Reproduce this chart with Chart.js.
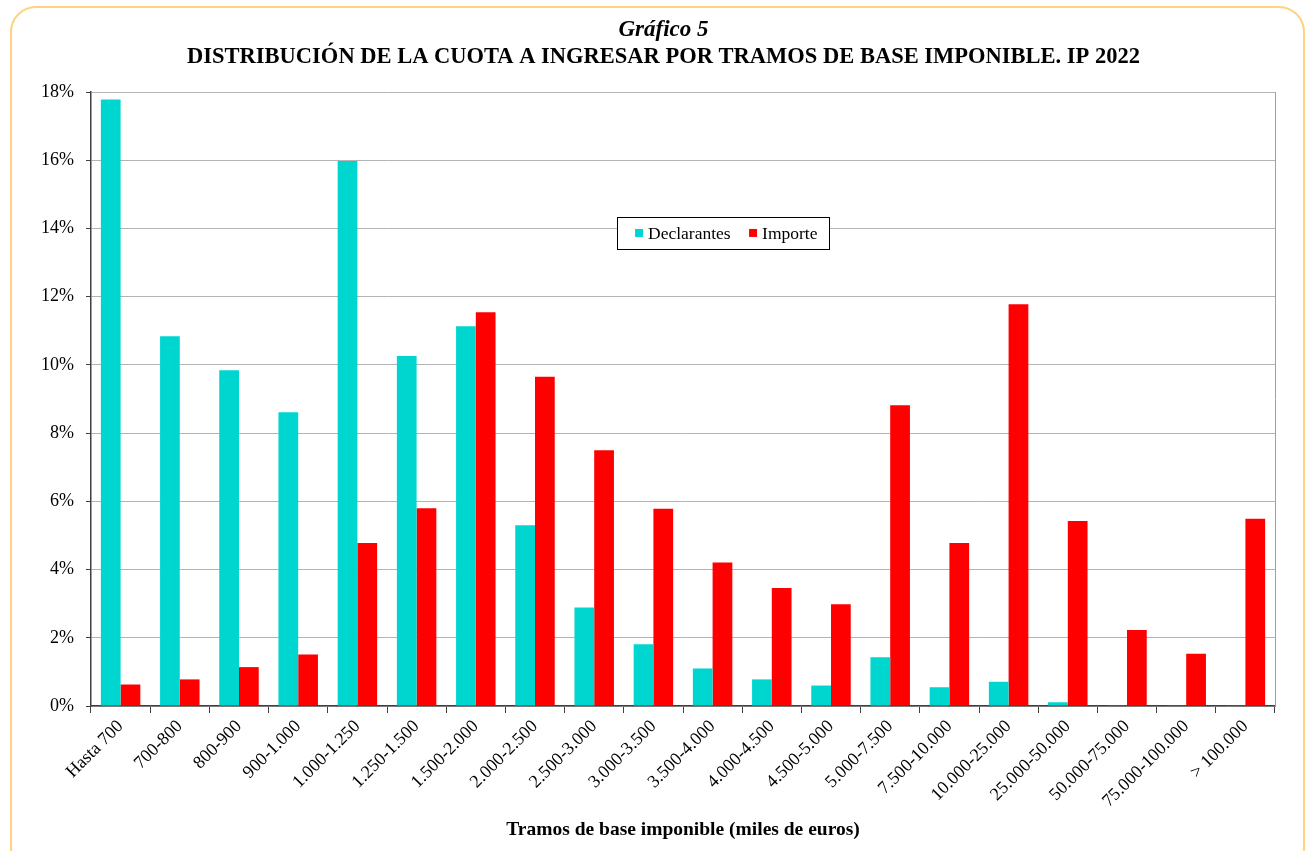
<!DOCTYPE html>
<html>
<head>
<meta charset="utf-8">
<script src="https://cdn.jsdelivr.net/npm/chart.js@4/dist/chart.umd.min.js"></script>
<style>
  html, body { margin: 0; padding: 0; background: #ffffff; overflow: hidden; }
  #frame { position: absolute; left: 10px; top: 6px; width: 1295px; height: 880px;
           border: 2px solid #FFD27F; border-radius: 26px; box-sizing: border-box; }
  #wrap { position: absolute; left: 0; top: 0; width: 1308px; height: 851px; }
</style>
</head>
<body>
<div id="frame"></div>
<div id="wrap"><canvas id="c" width="1308" height="851"></canvas></div>
<script>
const categories = ["Hasta 700","700-800","800-900","900-1.000","1.000-1.250","1.250-1.500","1.500-2.000","2.000-2.500","2.500-3.000","3.000-3.500","3.500-4.000","4.000-4.500","4.500-5.000","5.000-7.500","7.500-10.000","10.000-25.000","25.000-50.000","50.000-75.000","75.000-100.000","> 100.000"];
const declarantes = [17.78,10.84,9.84,8.61,15.98,10.26,11.13,5.30,2.89,1.81,1.10,0.78,0.60,1.43,0.55,0.71,0.11,0.02,0.01,0.01];
const importe = [0.63,0.78,1.14,1.51,4.78,5.80,11.54,9.65,7.50,5.78,4.21,3.46,2.98,8.82,4.78,11.78,5.42,2.23,1.53,5.49];
const yTicks = [0,2,4,6,8,10,12,14,16,18];
const titleText = "Gráfico 5";
const subtitleText = "DISTRIBUCIÓN DE LA CUOTA A INGRESAR POR TRAMOS DE BASE IMPONIBLE. IP 2022";
const xAxisTitle = "Tramos de base imponible (miles de euros)";

const SERIF = "'Liberation Serif', 'Times New Roman', serif";

const legendBox = {
  id: 'legendBox',
  afterDraw(chart) {
    const {ctx, chartArea: a} = chart;
    const x0 = a.left + (a.right - a.left) * 0.4443;
    const y0 = a.top + (a.bottom - a.top) * 0.2035;
    const w = 212, h = 32;
    ctx.save();
    ctx.fillStyle = '#ffffff';
    ctx.fillRect(x0, y0, w, h);
    ctx.strokeStyle = '#000000';
    ctx.lineWidth = 1;
    ctx.strokeRect(Math.round(x0) + 0.5, Math.round(y0) + 0.5, w, h);
    ctx.font = "17.5px " + SERIF;
    ctx.textBaseline = 'middle';
    const ds = chart.data.datasets;
    const items = [{sx: 18, tx: 31}, {sx: 132, tx: 145}];
    ds.forEach((d, i) => {
      ctx.fillStyle = d.backgroundColor;
      ctx.fillRect(x0 + items[i].sx, y0 + h / 2 - 4, 8, 8);
      ctx.fillStyle = '#000';
      ctx.fillText(d.label, x0 + items[i].tx, y0 + h / 2 + 1);
    });
    ctx.restore();
  }
};

new Chart(document.getElementById('c'), {
  type: 'bar',
  data: {
    labels: categories,
    datasets: [
      { label: 'Declarantes', data: declarantes, backgroundColor: '#00D6D0', borderWidth: 0,
        categoryPercentage: 0.667, barPercentage: 1.0 },
      { label: 'Importe', data: importe, backgroundColor: '#FF0000', borderWidth: 0,
        categoryPercentage: 0.667, barPercentage: 1.0 }
    ]
  },
  options: {
    responsive: false,
    animation: false,
    devicePixelRatio: 1,
    layout: { padding: { top: 0, left: 19, right: 0, bottom: 8 } },
    plugins: {
      legend: { display: false },
      tooltip: { enabled: false },
      title: {
        display: true, text: titleText, color: '#000',
        font: { family: SERIF, size: 23, style: 'italic', weight: 'bold', lineHeight: 1.2 },
        padding: { top: 16, bottom: 0 }
      },
      subtitle: {
        display: true, text: subtitleText, color: '#000',
        font: { family: SERIF, size: 22.5, weight: 'bold', lineHeight: 1.2 },
        padding: { top: 0, bottom: 21.4 }
      }
    },
    scales: {
      x: {
        grid: { display: true, drawOnChartArea: false, offset: true, tickLength: 7, tickColor: '#404040' },
        border: { display: true, color: '#404040', width: 1.5 },
        ticks: { color: '#000', maxRotation: 45, minRotation: 45, autoSkip: false,
                 font: { family: SERIF, size: 18 }, padding: 3 },
        title: { display: true, text: xAxisTitle, color: '#000',
                 font: { family: SERIF, size: 19.5, weight: 'bold' }, padding: { top: 0, bottom: 1 } },
        afterFit(scale) { scale.height = 851 - 706 - 8; }
      },
      y: {
        min: 0, max: 18,
        afterBuildTicks(scale) { scale.ticks = yTicks.map(v => ({ value: v })); },
        grid: { color: '#B4B4B4', lineWidth: 1, tickLength: 5, tickColor: '#404040', drawTicks: true },
        border: { display: true, color: '#404040', width: 1.5 },
        ticks: { color: '#000', padding: 12, font: { family: SERIF, size: 18 },
                 callback: v => v + '%' },
        afterFit(scale) { scale.width = 72; }
      },
      yRight: {
        position: 'right', display: true, min: 0, max: 18,
        grid: { display: false, drawOnChartArea: false, drawTicks: false },
        border: { display: true, color: '#A0A0A0', width: 1 },
        ticks: { display: false },
        afterFit(scale) { scale.width = 33; }
      }
    }
  },
  plugins: [legendBox]
});
</script>
</body>
</html>
